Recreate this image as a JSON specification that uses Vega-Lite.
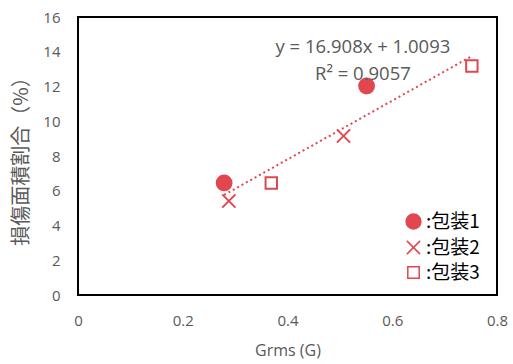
{
  "$schema": "https://vega.github.io/schema/vega-lite/v6.json",
  "width": 419,
  "height": 278,
  "autosize": {"type": "none"},
  "padding": {"left": 78, "top": 17, "right": 16, "bottom": 69},
  "background": "white",
  "config": {
    "view": {"stroke": "black", "strokeWidth": 2},
    "axis": {"grid": false, "ticks": false, "domain": false, "labelColor": "#595959", "titleColor": "#595959", "labelFontSize": 15, "titleFontSize": 16, "labelFont": "Open Sans", "titleFontWeight": "normal", "labelOverlap": false, "labelFlush": false}
  },
  "datasets": {
    "pts": [
      {"grms": 0.279, "damage": 6.45, "pkg": "包装1"},
      {"grms": 0.551, "damage": 12.03, "pkg": "包装1"},
      {"grms": 0.288, "damage": 5.41, "pkg": "包装2"},
      {"grms": 0.507, "damage": 9.15, "pkg": "包装2"},
      {"grms": 0.369, "damage": 6.45, "pkg": "包装3"},
      {"grms": 0.752, "damage": 13.18, "pkg": "包装3"}
    ],
    "eq": [
      {"grms": 0.544, "damage": 14.3, "t": "y = 16.908x + 1.0093"},
      {"grms": 0.544, "damage": 12.7, "t": "R² = 0.9057"}
    ]
  },
  "encoding": {
    "x": {"field": "grms", "type": "quantitative", "title": "Grms (G)",
          "scale": {"domain": [0, 0.8], "nice": false},
          "axis": {"values": [0, 0.2, 0.4, 0.6, 0.8], "format": "~g", "labelOverlap": false, "labelPadding": 18, "titlePadding": 14, "titleFont": "Open Sans"}},
    "y": {"field": "damage", "type": "quantitative", "title": "損傷面積割合（%）",
          "scale": {"domain": [0, 16], "nice": false},
          "axis": {"values": [0, 2, 4, 6, 8, 10, 12, 14, 16], "labelOverlap": false, "labelPadding": 18, "titlePadding": 11, "titleFont": "Noto Sans CJK JP", "titleFontSize": 20}}
  },
  "layer": [
    {
      "data": {"name": "pts"},
      "transform": [{"regression": "damage", "on": "grms"}],
      "mark": {"type": "line", "color": "#e0474f", "strokeWidth": 2, "strokeDash": [2, 3]},
      "encoding": {}
    },
    {
      "data": {"name": "pts"},
      "mark": {"type": "point", "strokeWidth": 2, "stroke": "#e0474f", "opacity": 1},
      "encoding": {
        "shape": {"field": "pkg", "type": "nominal",
                  "scale": {"domain": ["包装1", "包装2", "包装3"], "range": ["circle", "M-1,-1L1,1M-1,1L1,-1", "square"]},
                  "legend": {"orient": "none", "legendX": 326, "legendY": 195, "title": null,
                             "labelExpr": "':' + datum.label", "labelFontSize": 19, "labelColor": "black",
                             "labelFont": "Noto Sans CJK JP", "rowPadding": 5, "labelOffset": 3}},
        "fill": {"field": "pkg", "type": "nominal",
                 "scale": {"domain": ["包装1", "包装2", "包装3"], "range": ["#e0474f", "transparent", "transparent"]}},
        "size": {"field": "pkg", "type": "nominal",
                 "scale": {"domain": ["包装1", "包装2", "包装3"], "range": [220, 130, 110]}}
      }
    },
    {
      "data": {"name": "eq"},
      "mark": {"type": "text", "fontSize": 18.5, "color": "#595959", "font": "Open Sans", "align": "center", "baseline": "middle"},
      "encoding": {
        "text": {"field": "t"}
      }
    }
  ]
}
